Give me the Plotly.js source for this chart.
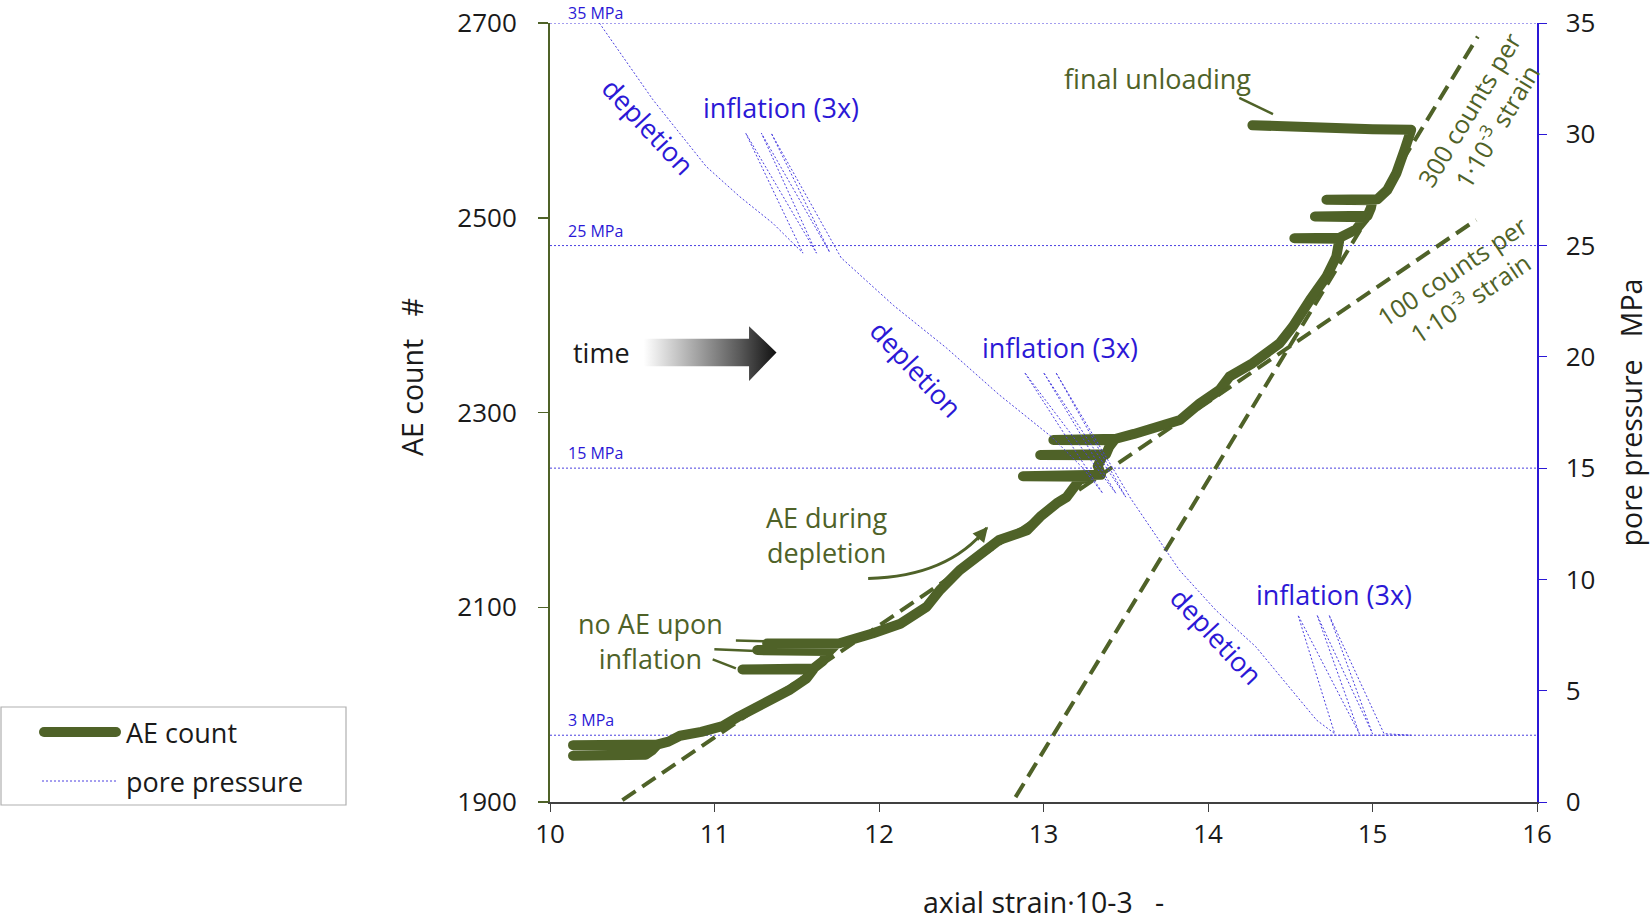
<!DOCTYPE html>
<html><head><meta charset="utf-8">
<script src="https://cdn.plot.ly/plotly-3.0.1.min.js"></script>
<style>
html,body{margin:0;padding:0;background:#fff;}
#chart{width:1650px;height:920px;}
path[style*="stroke-width: 10px"],path[style*="stroke-width:10px"]{stroke-linecap:round!important;stroke-linejoin:round!important;}
</style>
</head><body><div id="chart"></div>
<script>
// ---- AE count vs axial strain ----
const aeStrain = [10.14,10.58,10.62,10.65,10.14,10.65,10.72,10.79,10.92,11.05,11.15,11.25,11.35,11.455,11.56,11.6,11.17,11.6,11.66,11.70,11.26,11.71,11.74,11.32,11.76,11.96,12.13,12.29,12.37,12.49,12.61,12.73,12.90,12.98,13.08,13.14,13.18,13.22,13.30,12.875,13.35,13.33,13.36,12.98,13.38,13.40,13.43,13.06,13.44,13.55,13.65,13.83,13.95,14.07,14.13,14.27,14.435,14.515,14.62,14.72,14.78,14.79,14.80,14.525,14.80,14.90,14.96,14.65,14.97,14.99,15.00,14.72,15.03,15.09,15.145,15.195,15.235,15.0,14.6,14.57,14.27];
const aeCount = [1947.5,1948.5,1953,1958.5,1958.4,1959,1962,1968,1972,1978,1988,1996,2006,2015,2027,2036,2036,2037,2045,2055,2056,2057,2062,2062.8,2063,2073,2083,2100.5,2117.6,2138,2155,2169,2179,2193,2206.7,2213,2222,2231,2234,2234.5,2236,2245,2256,2256.3,2257,2265,2271.5,2271.8,2273,2278,2283,2292.3,2309.4,2323.1,2336.8,2350.5,2371,2388.1,2415.6,2439.5,2460.1,2470,2478.5,2478.9,2479.5,2488,2500.5,2501.2,2502,2510,2518,2518.4,2519,2528.5,2545.7,2569.7,2590.3,2591,2592,2594.5,2595];

// ---- pore pressure vs axial strain ----
const ppStrain = [10.30,10.626,10.95,11.153,11.355,11.538, 11.19,11.62, 11.285,11.70, 11.345,11.77, 12.09,12.41,12.73,13.05,13.24,13.36, 12.885,13.44, 13.0,13.50, 13.075,13.53, 13.826,14.05,14.29,14.66,14.77, 14.547,14.92, 14.663,15.0, 14.736,15.07, 15.235,14.27];
const ppMPa = [35.0,31.55,28.55,27.2,26.0,24.66, 30.05,24.66, 30.05,24.7, 30.05,24.45, 22.3,20.4,18.3,16.4,15.0,13.87, 19.3,13.87, 19.3,13.7, 19.3,13.64, 10.42,8.6,6.98,3.68,3.07, 8.4,3.07, 8.4,3.07, 8.4,3.07, 3.0,3.0];

// ---- trend lines ----
const trend300Strain = [12.83, 15.64];
const trend300Count = [1905, 2686];
const trend100Strain = [10.44, 15.63];
const trend100Count = [1902, 2497.8];

// ---- reference pore pressure levels ----
const refPressures = [3, 15, 25, 35];
const refLabels = ['3 MPa', '15 MPa', '25 MPa', '35 MPa'];

// ---- axis ticks ----
const xTicks = [10, 11, 12, 13, 14, 15, 16];
const yTicks = [1900, 2100, 2300, 2500, 2700];
const y2Ticks = [0, 5, 10, 15, 20, 25, 30, 35];

// ---- "time" arrow outline (decoration) ----
const timeArrowStrain = [10.57, 11.21, 11.21, 11.377, 11.21, 11.21, 10.57, 10.57];
const timeArrowCount  = [2347.6, 2347.6, 2332.4, 2361.6, 2388.6, 2375.7, 2375.7, 2347.6];

const OLIVE = '#4f6228';
const BLUE = '#2b18d6';
const DOTBLUE = '#4a3fe0';
const INK = '#1a1a1a';
const FONT = 'Open Sans, Noto Sans, sans-serif';

const W = 1650, H = 920, ML = 550, MR = 113, MT = 23, MB = 118;
const px2x = p => (p - ML) / (W - ML - MR);
const px2y = p => (H - MB - p) / (H - MT - MB);

const traces = [
  {x: aeStrain, y: aeCount, type: 'scatter', mode: 'lines', name: 'AE count',
   line: {color: OLIVE, width: 10}, xaxis: 'x', yaxis: 'y', showlegend: false, hoverinfo: 'skip'},
  {x: trend300Strain, y: trend300Count, type: 'scatter', mode: 'lines',
   line: {color: OLIVE, width: 4, dash: '16px,8px'}, showlegend: false, hoverinfo: 'skip'},
  {x: trend100Strain, y: trend100Count, type: 'scatter', mode: 'lines',
   line: {color: OLIVE, width: 4, dash: '16px,8px'}, showlegend: false, hoverinfo: 'skip'},
  {x: timeArrowStrain, y: timeArrowCount, type: 'scatter', mode: 'lines', fill: 'toself',
   fillcolor: '#666', line: {width: 0, color: 'rgba(0,0,0,0)'},
   fillgradient: {type: 'horizontal', colorscale: [[0, 'rgba(255,255,255,1)'], [0.72, '#5a5a5a'], [1, '#111111']]},
   showlegend: false, hoverinfo: 'skip'},
  {x: ppStrain, y: ppMPa, type: 'scatter', mode: 'lines', name: 'pore pressure',
   line: {color: DOTBLUE, width: 1, dash: '2px,2px'}, xaxis: 'x', yaxis: 'y2', showlegend: false, hoverinfo: 'skip'}
];

const shapes = [];
refPressures.forEach(p => shapes.push({type: 'line', xref: 'x', yref: 'y2', x0: 10, x1: 16, y0: p, y1: p,
  line: {color: DOTBLUE, width: 1, dash: '2px,2px'}, layer: 'below'}));
// leader lines
[[11.13,2065.8,11.303,2065.2],[10.999,2056.8,11.252,2055],[10.989,2046.5,11.13,2037.2],[14.19,2623,14.395,2606.4]]
  .forEach(s => shapes.push({type: 'line', xref: 'x', yref: 'y', x0: s[0], y0: s[1], x1: s[2], y1: s[3],
    line: {color: OLIVE, width: 2.5}}));
// curved arrow "AE during depletion"
shapes.push({type: 'path', xref: 'x', yref: 'y', path: 'M 11.934,2129.6 Q 12.42,2131.4 12.655,2181.5',
  line: {color: OLIVE, width: 3}});
// custom legend
shapes.push({type: 'rect', xref: 'paper', yref: 'paper', x0: px2x(1), x1: px2x(346), y0: px2y(805), y1: px2y(707),
  line: {color: '#b0b0b0', width: 1.2}, fillcolor: 'rgba(255,255,255,0)'});
shapes.push({type: 'line', xref: 'paper', yref: 'paper', x0: px2x(44), x1: px2x(116), y0: px2y(732), y1: px2y(732),
  line: {color: OLIVE, width: 10}});
shapes.push({type: 'line', xref: 'paper', yref: 'paper', x0: px2x(42), x1: px2x(118), y0: px2y(781), y1: px2y(781),
  line: {color: DOTBLUE, width: 1, dash: '2px,2px'}});

const ann = [];
refPressures.forEach((p, i) => ann.push({x: 10.1, y: p, xref: 'x', yref: 'y2', text: refLabels[i], showarrow: false,
  xanchor: 'left', yanchor: 'bottom', yshift: p === 35 ? -3 : 2, font: {size: 16, color: BLUE, family: FONT}}));
const blueTxt = (x, y, t, a) => ({x, y, xref: 'x', yref: 'y2', text: t, showarrow: false, textangle: a || 0,
  font: {size: 27, color: BLUE, family: FONT}});
ann.push(blueTxt(10.601, 30.37, 'depletion', 47));
ann.push(blueTxt(11.407, 31.22, 'inflation (3x)'));
ann.push(blueTxt(12.226, 19.49, 'depletion', 47));
ann.push(blueTxt(13.102, 20.43, 'inflation (3x)'));
ann.push(blueTxt(14.049, 7.47, 'depletion', 47));
ann.push(blueTxt(14.766, 9.32, 'inflation (3x)'));
const oliveTxt = (x, y, t, a, s) => ({x, y, xref: 'x', yref: 'y', text: t, showarrow: false, textangle: a || 0, align: 'center',
  font: {size: s || 27, color: OLIVE, family: FONT}});
ann.push(oliveTxt(13.691, 2642.7, 'final unloading'));
ann.push(oliveTxt(10.608, 2064.9, 'no AE upon<br>inflation'));
ann.push(oliveTxt(11.682, 2174, 'AE during<br>depletion'));
ann.push(oliveTxt(15.674, 2602.7, '300 counts per<br>1·10<sup>-3</sup> strain', -59, 25));
ann.push(oliveTxt(15.54, 2431.9, '100 counts per<br>1·10<sup>-3</sup> strain', -34, 25));
ann.push({x: 10.313, y: 2361.6, xref: 'x', yref: 'y', text: 'time', showarrow: false, font: {size: 27, color: INK, family: FONT}});
// arrowhead of the curved arrow
ann.push({x: 12.662, y: 2182.7, xref: 'x', yref: 'y', ax: -12, ay: 14.5, axref: 'pixel', ayref: 'pixel', text: '', showarrow: true,
  arrowhead: 2, arrowsize: 1, arrowwidth: 3, arrowcolor: OLIVE, standoff: 0});
// legend texts
ann.push({x: px2x(124), y: px2y(732), xref: 'paper', yref: 'paper', text: 'AE count', showarrow: false,
  xanchor: 'left', yanchor: 'middle', font: {size: 27, color: INK, family: FONT}});
ann.push({x: px2x(124), y: px2y(781), xref: 'paper', yref: 'paper', text: 'pore pressure', showarrow: false,
  xanchor: 'left', yanchor: 'middle', font: {size: 27, color: INK, family: FONT}});
// axis titles placed as in the reference
ann.push({x: px2x(412), y: px2y(377), xref: 'paper', yref: 'paper', text: 'AE count\u00a0\u00a0\u00a0#', showarrow: false,
  textangle: -90, xanchor: 'center', yanchor: 'middle', font: {size: 28.5, color: INK, family: FONT}});
ann.push({x: px2x(1043), y: px2y(902), xref: 'paper', yref: 'paper', text: 'axial strain·10-3\u00a0\u00a0\u00a0-', showarrow: false,
  xanchor: 'center', yanchor: 'middle', font: {size: 28.5, color: INK, family: FONT}});

const layout = {
  width: W, height: H,
  margin: {l: ML, r: MR, t: MT, b: MB, pad: 0},
  paper_bgcolor: '#fff', plot_bgcolor: '#fff',
  font: {family: FONT, color: INK, size: 26},
  showlegend: false,
  hovermode: false,
  xaxis: {range: [10, 16], tickvals: xTicks, ticktext: xTicks.map(String), showgrid: false, zeroline: false,
    showline: true, linecolor: '#404040', linewidth: 1.5, ticks: 'outside', ticklen: 8, tickcolor: '#404040',
    tickfont: {size: 26, color: INK}, automargin: false},
  yaxis: {range: [1900, 2700], tickvals: yTicks, ticktext: yTicks.map(String), showgrid: false, zeroline: false,
    showline: true, linecolor: OLIVE, linewidth: 2, ticks: 'outside', ticklen: 10, tickcolor: OLIVE, tickwidth: 1.5,
    tickfont: {size: 26, color: INK}, automargin: false, ticklabelstandoff: 16},
  yaxis2: {range: [0, 35], tickvals: y2Ticks, ticktext: y2Ticks.map(String), overlaying: 'y', side: 'right',
    showgrid: false, zeroline: false, showline: true, linecolor: BLUE, linewidth: 1.5, ticks: 'outside', ticklen: 8,
    tickcolor: BLUE, tickfont: {size: 26, color: INK}, automargin: false, ticklabelstandoff: 14,
    title: {text: 'pore pressure\u00a0\u00a0\u00a0MPa', font: {size: 28.5, color: INK}, standoff: 28}},
  shapes: shapes,
  annotations: ann
};

Plotly.newPlot('chart', traces, layout, {staticPlot: true, displayModeBar: false});
</script></body></html>
